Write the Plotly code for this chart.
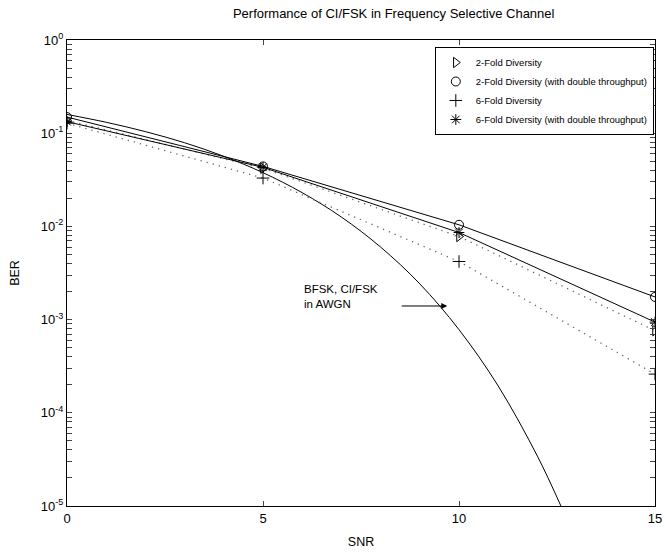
import plotly.graph_objects as go

snr = [0, 5, 10, 15]
ber_2fold = [0.137, 0.042, 0.0078, 0.00076]
ber_2fold_dt = [0.149, 0.044, 0.0104, 0.00175]
ber_6fold = [0.128, 0.033, 0.0042, 0.00026]
ber_6fold_dt = [0.133, 0.043, 0.0086, 0.00094]

awgn_snr = [0, 1, 2, 3, 4, 5, 6, 7, 8, 9, 10, 11, 12, 12.6]
awgn_ber = [0.159, 0.131, 0.104, 0.079, 0.0565, 0.0377, 0.023, 0.0126, 0.006,
            0.00242, 0.00078, 0.000194, 0.0000343, 0.00001]

series = [
    ("2-Fold Diversity", ber_2fold, "triangle-right-open", "dot"),
    ("2-Fold Diversity (with double throughput)", ber_2fold_dt, "circle-open", "solid"),
    ("6-Fold Diversity", ber_6fold, "cross-thin-open", "dot"),
    ("6-Fold Diversity (with double throughput)", ber_6fold_dt, "asterisk-open", "solid"),
]

fig = go.Figure()
fig.add_trace(go.Scatter(x=awgn_snr, y=awgn_ber, mode="lines", line=dict(color="black", width=1, shape="spline"),
                         showlegend=False))
for name, y, sym, dash in series:
    if dash == "dot":
        ln = dict(color="#666666", width=1.3, dash="1.3px,5px")
    else:
        ln = dict(color="black", width=1)
    fig.add_trace(go.Scatter(x=snr, y=y, mode="lines", line=ln, showlegend=False))
for name, y, sym, dash in series:
    fig.add_trace(go.Scatter(x=snr, y=y, mode="markers", name=name,
                             marker=dict(symbol=sym, size=9, color="black", line=dict(color="black", width=1))))

yticks = []
ytext = []
for e in range(0, -6, -1):
    yticks.append(10 ** e)
    ytext.append("10<sup>%d</sup>" % e)
    if e > -5:
        for m in range(2, 10):
            yticks.append(m * 10 ** (e - 1))
            ytext.append("")

fig.add_annotation(x=9.7, y=-2.854, xref="x", yref="y", ax=8.5, ay=-2.854, axref="x", ayref="y",
                   showarrow=True, arrowhead=2, arrowsize=1.2, arrowwidth=1, arrowcolor="black", text="")
fig.add_annotation(x=6.0, y=-2.75, xref="x", yref="y", xanchor="left", yanchor="middle", showarrow=False,
                   align="left", text="BFSK, CI/FSK<br>in AWGN", font=dict(size=11.5, color="black"))

fig.update_layout(
    width=665, height=553,
    margin=dict(l=67, r=10, t=40, b=47, autoexpand=False),
    paper_bgcolor="white", plot_bgcolor="white",
    font=dict(family="Liberation Sans, Arial, sans-serif", color="black", size=13),
    title=dict(text="Performance of CI/FSK in Frequency Selective Channel", x=0.592, xanchor="center",
               y=0.975, yanchor="middle", font=dict(size=13)),
    showlegend=True,
    legend=dict(x=0.998, y=0.985, xanchor="right", yanchor="top", bordercolor="black", borderwidth=1,
                bgcolor="white", font=dict(size=9.5), tracegroupgap=0, itemwidth=30),
)
fig.update_xaxes(range=[0, 15], tickvals=[0, 5, 10, 15], ticks="inside", ticklen=5, showline=True,
                 linecolor="black", linewidth=1, mirror="ticks", showgrid=False, zeroline=False,
                 title=dict(text="SNR", font=dict(size=12.5), standoff=12), tickfont=dict(size=13))
fig.update_yaxes(type="log", range=[-5, 0], tickvals=yticks, ticktext=ytext, ticks="inside", ticklen=5,
                 showline=True, linecolor="black", linewidth=1, mirror="ticks", showgrid=False,
                 title=dict(text="BER", font=dict(size=12.5), standoff=18), tickfont=dict(size=13))

fig.write_html("out.html", config={"displayModeBar": False},
               post_script="document.body.style.margin='0';document.body.style.overflow='hidden';")
